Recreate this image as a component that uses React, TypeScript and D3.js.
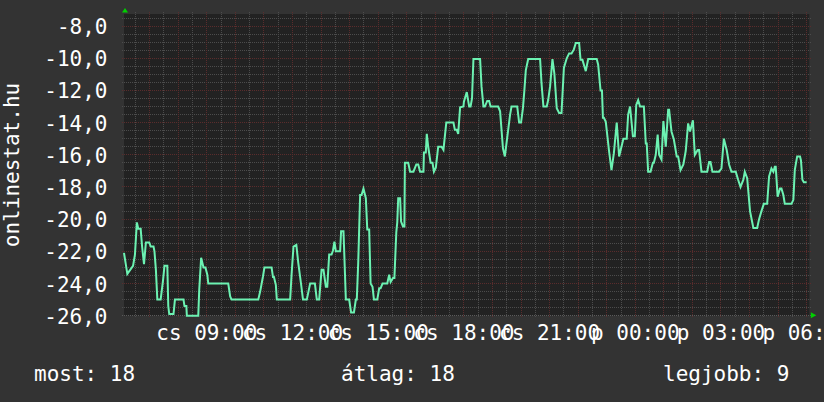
import React from "react";
import * as d3 from "d3";

// time in minutes since 00:00 of the first day (cs = Thursday, p = Friday)
const timeMinutes = [
  366, 373, 385, 389, 393, 396, 401, 404, 408, 412, 419, 422, 428, 430, 433, 436, 443, 448, 451, 457,
  459, 461, 470, 473, 491, 493, 497, 498, 522, 524, 528, 533, 537, 541, 543, 585, 589, 592, 648, 652,
  658, 661, 676, 679, 681, 685, 687, 715, 718, 722, 728, 732, 738, 742, 750, 757, 767, 771, 776, 781,
  785, 790, 793, 797, 802, 805, 808, 811, 820, 822, 827, 829, 832, 839, 843, 849, 853, 855, 858, 862,
  865, 869, 874, 877, 881, 884, 888, 891, 898, 902, 905, 909, 919, 923, 926, 931, 934, 938, 940, 942,
  946, 948, 952, 955, 956, 963, 967, 974, 980, 984, 988, 995, 996, 1000, 1002, 1005, 1010, 1014, 1017, 1021,
  1026, 1033, 1037, 1043, 1058, 1061, 1065, 1068, 1072, 1079, 1080, 1086, 1091, 1094, 1097, 1100, 1114, 1117, 1121, 1124,
  1129, 1133, 1136, 1152, 1156, 1162, 1166, 1170, 1177, 1180, 1192, 1196, 1200, 1204, 1207, 1210, 1215, 1240, 1243, 1247,
  1254, 1257, 1261, 1266, 1270, 1275, 1280, 1285, 1290, 1296, 1301, 1306, 1311, 1315, 1322, 1325, 1329, 1332, 1336, 1341,
  1359, 1362, 1367, 1370, 1372, 1374, 1378, 1385, 1390, 1395, 1401, 1406, 1415, 1422, 1425, 1429, 1435, 1439, 1442, 1446,
  1450, 1458, 1462, 1464, 1467, 1472, 1477, 1479, 1483, 1487, 1490, 1495, 1499, 1504, 1509, 1511, 1516, 1521, 1527, 1530,
  1535, 1541, 1546, 1551, 1555, 1561, 1565, 1571, 1574, 1579, 1591, 1595, 1598, 1602, 1616, 1621, 1626, 1632, 1637, 1642,
  1651, 1656, 1661, 1667, 1670, 1675, 1681, 1688, 1696, 1700, 1705, 1710, 1717, 1721, 1726, 1730, 1733, 1735, 1739, 1744,
  1747, 1751, 1754, 1768, 1772, 1775, 1780, 1786, 1788, 1791, 1794, 1800,
];

const rankValues = [
  -22.1, -23.4, -22.9, -22.2, -20.2, -20.6, -20.6, -21.7, -22.8, -21.45, -21.45, -21.7, -21.7, -22, -23.15, -25, -25, -23.8, -22.9, -22.9,
  -25.4, -25.9, -25.9, -25, -25, -25.4, -25.4, -26, -26, -24.4, -22.4, -23, -23, -23.45, -24, -24, -24.8, -25, -25, -24.5,
  -23.55, -23, -23, -23.6, -23.6, -24.1, -25, -25, -23.45, -21.7, -21.6, -22.7, -24.05, -25, -25, -24, -24, -25, -25, -23.15,
  -23.15, -24.2, -24.2, -22.2, -22.2, -21.95, -21.4, -22, -22, -20.75, -20.75, -22.4, -25, -25, -25.8, -25.8, -25, -25, -22.7, -18.5,
  -18.5, -18.1, -18.7, -20.65, -20.65, -24, -24.2, -25, -25, -24.3, -24.3, -24, -24, -23.45, -23.9, -23.65, -23.65, -20.8, -20.2, -18.7,
  -18.7, -20.15, -20.45, -20.45, -16.5, -16.5, -17.05, -17.05, -16.6, -16.6, -17.05, -17.05, -15.85, -15.85, -14.7, -15.5, -16.5, -16.5, -17.05, -16.8,
  -15.5, -15.5, -15.7, -14, -14, -14.45, -14.45, -14.7, -13.05, -13, -12.7, -12.1, -13, -13, -12.5, -10.05, -10.05, -11.75, -13, -13,
  -12.65, -12.65, -13, -13, -13.3, -15.6, -16.1, -15.15, -13.5, -13, -13, -14, -14, -13.1, -12, -10.75, -10.05, -10.05, -11.55, -13,
  -13, -12.6, -11.75, -10.05, -10.95, -13.1, -13.4, -13.4, -10.6, -10, -9.7, -9.7, -9.45, -9.05, -9.05, -10.1, -10.1, -10.4, -10.8, -10.05,
  -10.05, -10.4, -12, -12, -13.7, -13.7, -13.95, -15.8, -16.95, -15.9, -14, -16.1, -15, -15, -13.5, -13, -14.85, -14.85, -12.9, -12.6,
  -13, -13, -15.3, -15.3, -17.05, -17.05, -16.5, -16.5, -16, -14.75, -16, -16.3, -13.9, -15.5, -13.2, -13.2, -14.55, -15.05, -16.1, -16.1,
  -16.95, -16.6, -15.75, -14.05, -14.55, -13.85, -16, -15.7, -15.7, -17.05, -17.05, -16.45, -16.45, -17.05, -17.05, -16.85, -15, -15.7, -16.6, -17.05,
  -17.05, -17.55, -18, -17.55, -17.05, -17.45, -19.5, -20.55, -20.55, -20, -19.5, -19.05, -19.05, -17.35, -16.85, -17.05, -16.75, -16.75, -18.6, -18.1,
  -18.1, -18.5, -19.05, -19.05, -18.8, -16.95, -16.1, -16.1, -16.35, -17.55, -17.7, -17.7,
];

const yTickValues = [-8, -10, -12, -14, -16, -18, -20, -22, -24, -26];
const xTickMinutes = [540, 720, 900, 1080, 1260, 1440, 1620, 1800];
const xTickLabels = ["cs 09:00", "cs 12:00", "cs 15:00", "cs 18:00", "cs 21:00", "p 00:00", "p 03:00", "p 06:00"];
const axisTitle = "onlinestat.hu";
const legendTexts = ["most: 18", "átlag: 18", "legjobb: 9"];
const timeDomain = [366, 1805.5];
const valueDomain = [-26, -7.25];

const W = 824;
const H = 402;
const PL = 124;
const PR = 809.3;
const PT = 14;
const PB = 315.7;
const FONT = "'DejaVu Sans Mono', monospace";

export default function App() {
  const x = d3.scaleLinear().domain(timeDomain).range([PL, PR]);
  const y = d3.scaleLinear().domain(valueDomain).range([PB, PT]);

  const pts = timeMinutes.map((t, i) => [t, rankValues[i]] as [number, number]);
  const line = d3
    .line<[number, number]>()
    .x((d) => x(d[0]))
    .y((d) => y(d[1]))
    .curve(d3.curveLinear);

  const minorV = d3.range(390, timeDomain[1] + 0.1, 30).filter((m) => m % 60 !== 0);
  const majorV = d3.range(420, timeDomain[1] + 0.1, 60);
  const minorH = d3.range(-26, valueDomain[1], 0.5).filter((v) => Math.abs(v % 2) > 0.01);
  const majorH = d3.range(-26, valueDomain[1], 2);

  const minorColor = "#4c4c4c";
  const majorColor = "#5a2c2c";

  return (
    <svg
      width={W}
      height={H}
      style={{ position: "absolute", left: 0, top: 0, display: "block" }}
      fontFamily={FONT}
    >
      <rect x={0} y={0} width={W} height={H} fill="#333333" />
      <rect x={PL} y={PT} width={PR - PL} height={PB - PT} fill="#222222" />

      {minorV.map((m) => (
        <line key={"mv" + m} x1={x(m)} x2={x(m)} y1={PT - 2} y2={PB + 2}
          stroke={minorColor} strokeWidth={1} strokeDasharray="1,1" shapeRendering="crispEdges" />
      ))}
      {minorH.map((v) => (
        <line key={"mh" + v} x1={PL - 2} x2={PR + 2} y1={y(v)} y2={y(v)}
          stroke={minorColor} strokeWidth={1} strokeDasharray="1,1" shapeRendering="crispEdges" />
      ))}
      {majorV.map((m) => (
        <line key={"Mv" + m} x1={x(m)} x2={x(m)} y1={PT - 2} y2={PB + 2}
          stroke={majorColor} strokeWidth={1} strokeDasharray="1,1" shapeRendering="crispEdges" />
      ))}
      {majorH.map((v) => (
        <line key={"Mh" + v} x1={PL - 2} x2={PR + 2} y1={y(v)} y2={y(v)}
          stroke={majorColor} strokeWidth={1} strokeDasharray="1,1" shapeRendering="crispEdges" />
      ))}
      <line x1={PL - 2} x2={PR + 2} y1={PB} y2={PB} stroke="#5a5a5a" strokeWidth={1}
        strokeDasharray="1,1" shapeRendering="crispEdges" />

      <path d={line(pts) || ""} fill="none" stroke="#6cf2b2" strokeWidth={2} strokeLinejoin="miter" />

      <path d={`M${PL + 1},${PT - 6} L${PL - 2},${PT - 1.5} L${PL + 4},${PT - 1.5} Z`} fill="#00d000" />
      <path d={`M${PR + 7},${PB - 0.5} L${PR + 1.5},${PB - 3.5} L${PR + 1.5},${PB + 2.5} Z`} fill="#00d000" />

      <g fill="#ffffff" fontSize={21}>
        {yTickValues.map((v) => (
          <text key={"yl" + v} x={107.5} y={y(v) + 8} textAnchor="end">
            {v.toFixed(1).replace(".", ",")}
          </text>
        ))}
        {xTickMinutes.map((m, i) => (
          <text key={"xl" + m} x={x(m)} y={340} textAnchor="middle">
            {xTickLabels[i]}
          </text>
        ))}
        <text transform={`translate(18.5,165) rotate(-90)`} textAnchor="middle">
          {axisTitle}
        </text>
        <text x={34} y={381}>{legendTexts[0]}</text>
        <text x={341} y={381}>{legendTexts[1]}</text>
        <text x={663} y={381}>{legendTexts[2]}</text>
      </g>
    </svg>
  );
}
